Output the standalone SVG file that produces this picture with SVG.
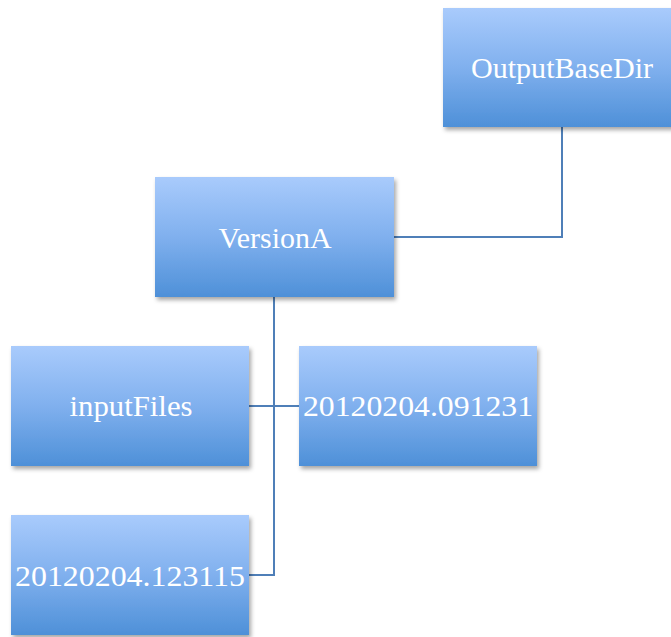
<svg xmlns="http://www.w3.org/2000/svg" width="671" height="637" viewBox="0 0 671 637">
<style>
.box{fill:url(#g);filter:url(#sh)}
.t{font-family:"Liberation Serif","DejaVu Serif",serif;font-size:30px;fill:#ffffff;text-anchor:middle}
.c{fill:none;stroke:#4f7fb8;stroke-width:2}
</style>
<defs>
<linearGradient id="g" x1="0" y1="0" x2="0" y2="1">
<stop offset="0" stop-color="#a9cbfc"/>
<stop offset="0.5" stop-color="#80b0ee"/>
<stop offset="1" stop-color="#4e90d8"/>
</linearGradient>
<filter id="sh" x="-10%" y="-10%" width="125%" height="130%">
<feDropShadow dx="2" dy="3" stdDeviation="2" flood-color="#000" flood-opacity="0.35"/>
</filter>
</defs>
<g id="connectors">
<path class="c" d="M562 127 V237 H394"/>
<path class="c" d="M274 297 V575 H249"/>
<path class="c" d="M249 406 H299"/>
</g>
<g id="OutputBaseDir">
<rect class="box" x="443" y="8" width="232" height="119"/>
<text class="t" x="562" y="78" textLength="182" lengthAdjust="spacingAndGlyphs">OutputBaseDir</text>
</g>
<g id="VersionA">
<rect class="box" x="155" y="177" width="239" height="120"/>
<text class="t" x="275" y="248" textLength="113" lengthAdjust="spacingAndGlyphs">VersionA</text>
</g>
<g id="inputFiles">
<rect class="box" x="11" y="346" width="238" height="120"/>
<text class="t" x="131" y="416" textLength="123" lengthAdjust="spacingAndGlyphs">inputFiles</text>
</g>
<g id="n091231">
<rect class="box" x="299" y="346" width="238" height="120"/>
<text class="t" x="418" y="416" textLength="230" lengthAdjust="spacingAndGlyphs">20120204.091231</text>
</g>
<g id="n123115">
<rect class="box" x="11" y="515" width="238" height="120"/>
<text class="t" x="130" y="586" textLength="230" lengthAdjust="spacingAndGlyphs">20120204.123115</text>
</g>
</svg>
